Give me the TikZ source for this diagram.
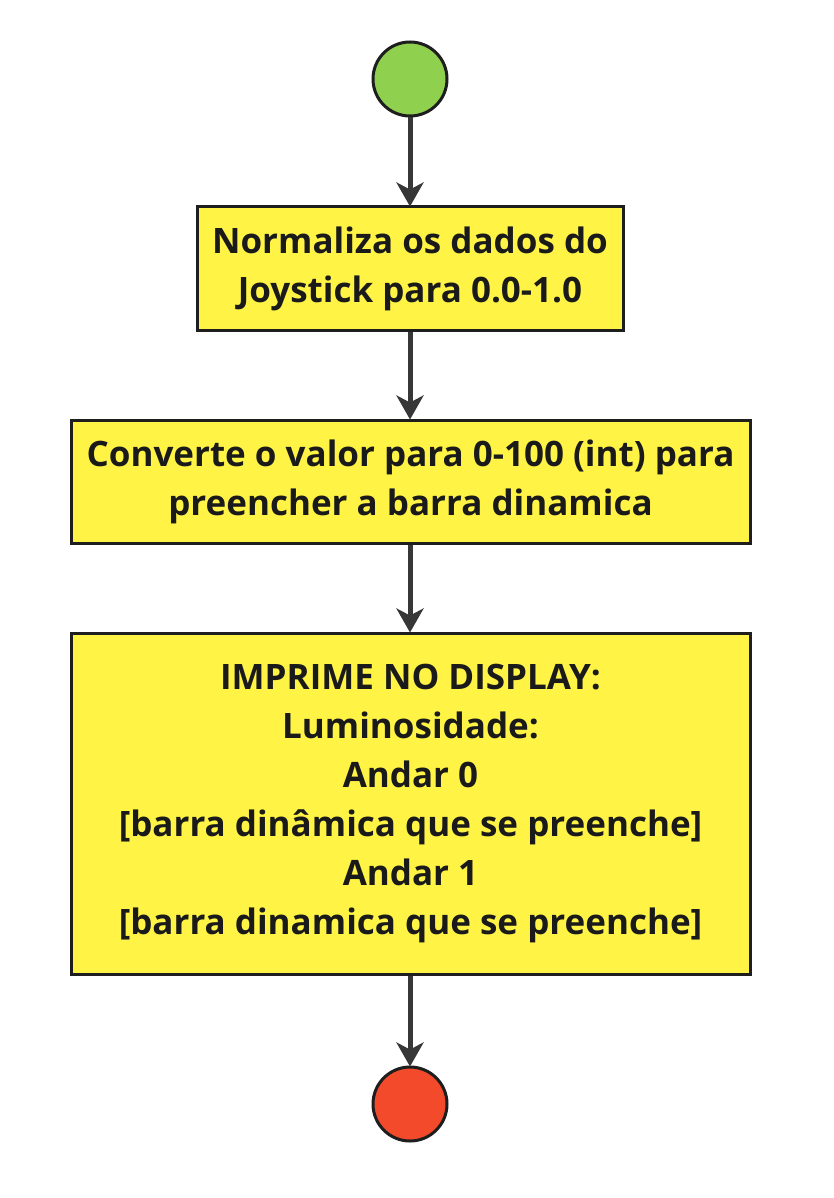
\documentclass[tikz,border=0pt]{standalone}
\usepackage{fontspec}
\setmainfont{Open Sans}
\usetikzlibrary{arrows.meta}
\definecolor{boxyellow}{RGB}{255,243,69}
\definecolor{startgreen}{RGB}{143,209,79}
\definecolor{endred}{RGB}{242,74,42}
\definecolor{edgedark}{RGB}{30,30,30}
\definecolor{arrowgray}{RGB}{55,55,55}
\definecolor{textdark}{RGB}{26,26,26}
\tikzset{
  procbox/.style={draw=edgedark, line width=3pt, fill=boxyellow, rectangle, inner sep=0pt,
    align=center, text=textdark, font=\fontsize{35}{49}\selectfont\bfseries},
  termnode/.style={draw=edgedark, line width=3pt, circle, inner sep=0pt, minimum size=74pt},
  flow/.style={draw=arrowgray, line width=5pt, -{Stealth[length=24pt,width=27pt,inset=7pt]}, shorten >=-1pt}
}
\begin{document}
\begin{tikzpicture}[x=1pt,y=-1pt]
\useasboundingbox[fill=white] (0,0) rectangle (834,1198);
\node[termnode, fill=startgreen] (start) at (410,79) {};
\node[procbox, minimum width=426pt, minimum height=123pt] (b1) at (410,268.5)
  {Normaliza os dados do\\Joystick para 0.0-1.0};
\node[procbox, minimum width=679pt, minimum height=123pt] (b2) at (410.5,481.5)
  {Converte o valor para 0-100 (int) para\\preencher a barra dinamica};
\node[procbox, minimum width=679pt, minimum height=341pt] (b3) at (410.5,803.5)
  {IMPRIME NO DISPLAY:\\Luminosidade:\\Andar 0\\{[}barra dinâmica que se preenche{]}\\Andar 1\\{[}barra dinamica que se preenche{]}};
\node[termnode, fill=endred] (stop) at (410,1104) {};
\draw[flow] (start.south) -- (b1.north -| start.south);
\draw[flow] (b1.south -| start.south) -- (b2.north -| start.south);
\draw[flow] (b2.south -| start.south) -- (b3.north -| start.south);
\draw[flow] (b3.south -| start.south) -- (stop.north);
\end{tikzpicture}
\end{document}
